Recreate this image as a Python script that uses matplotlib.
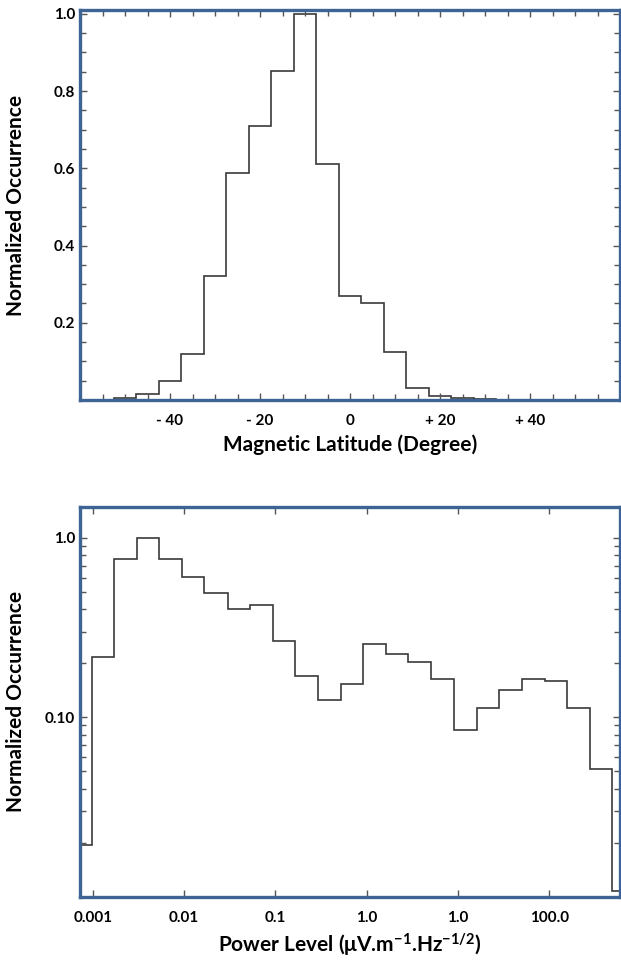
import numpy as np
import matplotlib.pyplot as plt
from matplotlib.ticker import FixedLocator, FixedFormatter, MultipleLocator, NullFormatter

plt.rcParams['font.family'] = ['Lato', 'DejaVu Sans']
plt.rcParams['font.weight'] = 'bold'
plt.rcParams['mathtext.fontset'] = 'custom'
plt.rcParams['mathtext.rm'] = 'Lato:bold'
plt.rcParams['mathtext.it'] = 'Lato:bold'
plt.rcParams['mathtext.bf'] = 'Lato:bold'

# top panel: magnetic latitude histogram (5 deg bins)
lat_edges = [-57.5, -52.5, -47.5, -42.5, -37.5, -32.5, -27.5, -22.5, -17.5, -12.5, -7.5, -2.5,
             2.5, 7.5, 12.5, 17.5, 22.5, 27.5, 32.5, 37.5, 42.5, 47.5, 52.5, 57.5]
lat_occ = [0.001, 0.004, 0.015, 0.049, 0.119, 0.322, 0.588, 0.709, 0.852, 1.0, 0.612,
           0.270, 0.250, 0.125, 0.030, 0.010, 0.004, 0.002, 0.001, 0.001, 0.0005, 0.0, 0.0]
lat_ticks = [-40, -20, 0, 20, 40]
lat_labels = ['- 40', '- 20', '0', '+ 20', '+ 40']

# bottom panel: power level histogram (log10 bin edges, ~4 bins per decade)
pow_log_edges = [-3.258, -3.010, -2.763, -2.518, -2.274, -2.025, -1.778, -1.521, -1.277,
                 -1.029, -0.785, -0.536, -0.284, -0.036, 0.212, 0.457, 0.705, 0.957,
                 1.206, 1.453, 1.705, 1.954, 2.198, 2.447, 2.691, 2.940]
pow_occ = [0.0193, 0.2175, 0.761, 1.0, 0.761, 0.607, 0.490, 0.399, 0.422, 0.267, 0.1705,
           0.1248, 0.1532, 0.256, 0.225, 0.204, 0.1627, 0.0850, 0.1122, 0.1419, 0.1627,
           0.1592, 0.1122, 0.0513, 0.0108]
pow_ticks = [0.001, 0.01, 0.1, 1, 10, 100]
pow_labels = ['0.001', '0.01', '0.1', '1.0', '1.0', '100.0']

spine_col = '#3d6494'
line_col = '#3a3a3a'
tick_col = '#555555'

fig = plt.figure(figsize=(6.21, 9.63), dpi=100)
ax1 = fig.add_axes([80/621, 1 - 400/963, 540/621, 390/963])
ax2 = fig.add_axes([80/621, 1 - 896.7/963, 540/621, 390/963])

for ax in (ax1, ax2):
    for s in ax.spines.values():
        s.set_color(spine_col)
        s.set_linewidth(2.4)
    ax.tick_params(which='both', direction='in', top=True, right=True,
                   color=tick_col, width=1, labelsize=11)
    ax.tick_params(which='major', length=5)
    ax.tick_params(which='minor', length=4)
    ax.set_ylabel('Normalized Occurrence', fontsize=15, fontweight='bold')
    ax.yaxis.set_label_coords(-0.1, 0.5)

# top
ax1.stairs(lat_occ, lat_edges, color=line_col, linewidth=1.2)
ax1.set_xlim(-60, 60)
ax1.set_ylim(0, 1.01)
ax1.xaxis.set_major_locator(FixedLocator(lat_ticks))
ax1.xaxis.set_major_formatter(FixedFormatter(lat_labels))
ax1.xaxis.set_minor_locator(MultipleLocator(5))
ax1.yaxis.set_major_locator(FixedLocator([0.2, 0.4, 0.6, 0.8, 1.0]))
ax1.yaxis.set_major_formatter(FixedFormatter(['0.2', '0.4', '0.6', '0.8', '1.0']))
ax1.yaxis.set_minor_locator(MultipleLocator(0.05))
ax1.tick_params(axis='x', pad=10)
ax1.set_xlabel('Magnetic Latitude (Degree)', fontsize=15, fontweight='bold', labelpad=5)

# bottom
ax2.stairs(pow_occ, 10 ** np.array(pow_log_edges), color=line_col, linewidth=1.2)
ax2.set_xscale('log')
ax2.set_yscale('log')
ax2.set_xlim(10 ** -3.139, 10 ** 2.774)
ax2.set_ylim(0.01, 1.49)
ax2.xaxis.set_major_locator(FixedLocator(pow_ticks))
ax2.xaxis.set_major_formatter(FixedFormatter(pow_labels))
ax2.xaxis.set_minor_locator(FixedLocator([]))
ax2.yaxis.set_major_locator(FixedLocator([0.1, 1.0]))
ax2.yaxis.set_major_formatter(FixedFormatter(['0.10', '1.0']))
ax2.yaxis.set_minor_formatter(NullFormatter())
ax2.tick_params(axis='x', pad=10)
ax2.set_xlabel(r'Power Level ($\mu$V.m$^{-1}$.Hz$^{-1/2}$)',
               fontsize=15, fontweight='bold', labelpad=5)

fig.savefig('out.png', dpi=100)
